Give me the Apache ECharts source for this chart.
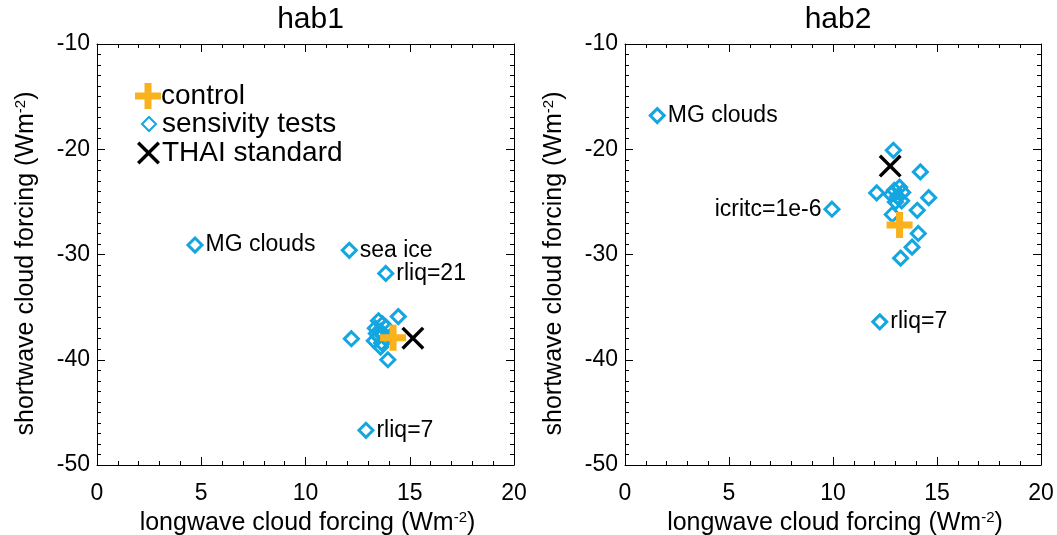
<!DOCTYPE html>
<html><head><meta charset="utf-8">
<script src="https://cdn.jsdelivr.net/npm/echarts@6/dist/echarts.min.js"></script>
<style>html,body{margin:0;padding:0;background:#fff}#c{width:1057px;height:535px}</style>
</head><body><div id="c"></div>
<script>
// ---- data ----
const panelTitles = ['hab1', 'hab2'];
const xTicks = [0, 5, 10, 15, 20];
const yTicks = [-50, -40, -30, -20, -10];
// hab1 sensitivity tests
const hab1Lw = [4.7, 12.1, 13.85, 12.9, 12.2, 14.45, 13.95, 13.5, 13.7, 13.35, 13.6, 13.85, 13.5, 13.3, 13.65, 13.9, 13.6, 13.4];
const hab1Sw = [-29.1, -29.6, -31.8, -46.7, -38.0, -35.9, -40.0, -36.3, -36.6, -37.0, -37.3, -36.9, -37.8, -38.2, -38.4, -38.0, -38.8, -37.5];
const hab1Names = ['MG clouds', 'sea ice', 'rliq=21', 'rliq=7', '', '', '', '', '', '', '', '', '', '', '', '', '', ''];
const hab1Control = [14.2, -37.9];
const hab1Thai = [15.15, -37.95];
// hab2 sensitivity tests
const hab2Lw = [1.55, 9.95, 12.25, 12.9, 14.2, 12.1, 14.6, 14.05, 12.85, 14.1, 13.8, 13.25, 12.95, 13.2, 13.35, 13.1, 12.8, 13.3, 13.0];
const hab2Sw = [-16.8, -25.7, -36.4, -20.1, -22.15, -24.15, -24.6, -25.8, -26.2, -28.0, -29.3, -30.35, -23.9, -23.6, -24.1, -24.5, -24.3, -24.9, -25.0];
const hab2Names = ['MG clouds', 'icritc=1e-6', 'rliq=7', '', '', '', '', '', '', '', '', '', '', '', '', '', '', '', ''];
const hab2LabelSide = ['right', 'left', 'right'];
const hab2Control = [13.2, -27.2];
const hab2Thai = [12.75, -21.6];

// ---- styling ----
const FONT = '"Liberation Sans", Arial, sans-serif';
const BLUE = '#13a6e0';
const ORANGE = '#f9b21b';
const PLUS = 'path://M9.5,0 H16.5 V9.5 H26 V16.5 H16.5 V26 H9.5 V16.5 H0 V9.5 H9.5 Z';
const CROSS = 'path://M0,2.1 L2.1,0 L10,7.9 L17.9,0 L20,2.1 L12.1,10 L20,17.9 L17.9,20 L10,12.1 L2.1,20 L0,17.9 L7.9,10 Z';

const grids = [
  {left: 97, top: 44, width: 417, height: 421, outerBoundsMode: 'none', containLabel: false},
  {left: 625, top: 44, width: 416, height: 421, outerBoundsMode: 'none', containLabel: false}
];

const supRich = {sup: {fontSize: 15, verticalAlign: 'top', lineHeight: 27, fontFamily: FONT, color: '#000'}};

function xAx(gi, pos, withLabels) {
  return {
    type: 'value', gridIndex: gi, position: pos, min: xTicks[0], max: xTicks[xTicks.length - 1], interval: 5,
    axisLine: {show: true, onZero: false, lineStyle: {color: '#000', width: 1}},
    axisTick: {show: true, inside: true, length: 8, lineStyle: {color: '#000'}},
    minorTick: {show: true, splitNumber: 5, length: 4, lineStyle: {color: '#000'}},
    splitLine: {show: false},
    axisLabel: {show: withLabels, inside: false, margin: 17, fontSize: 23, color: '#000', fontFamily: FONT},
    name: withLabels ? 'longwave cloud forcing (Wm{sup|-2})' : '',
    nameLocation: 'middle', nameGap: 44,
    nameTextStyle: {fontSize: 25, color: '#000', fontFamily: FONT, lineHeight: 27, rich: supRich,
      padding: [0, 0, 0, 4]}
  };
}
function yAx(gi, pos, withLabels) {
  return {
    type: 'value', gridIndex: gi, position: pos, min: yTicks[0], max: yTicks[yTicks.length - 1], interval: 10,
    axisLine: {show: true, onZero: false, lineStyle: {color: '#000', width: 1}},
    axisTick: {show: true, inside: true, length: 8, lineStyle: {color: '#000'}},
    minorTick: {show: true, splitNumber: 10, length: 4, lineStyle: {color: '#000'}},
    splitLine: {show: false},
    axisLabel: {show: withLabels, margin: 7, fontSize: 23, color: '#000', fontFamily: FONT,
      padding: [8, 0, 0, 0]},
    name: withLabels ? 'shortwave cloud forcing (Wm{sup|-2})' : '',
    nameLocation: 'middle', nameGap: 57, nameRotate: 90,
    nameTextStyle: {fontSize: 25, color: '#000', fontFamily: FONT, lineHeight: 27, rich: supRich,
      padding: [0, 18, 0, 0]}
  };
}

function testData(lw, sw, names, sides) {
  return lw.map((x, i) => {
    const d = {value: [x, sw[i]]};
    if (names[i]) {
      d.label = {show: true, formatter: names[i], position: (sides && sides[i]) || 'right', distance: 2,
        fontSize: 23, color: '#000', fontFamily: FONT};
    }
    return d;
  });
}

const xAxes = [], yAxes = [];
[0, 1].forEach(g => {
  xAxes.push(xAx(g, 'bottom', true), xAx(g, 'top', false));
  yAxes.push(yAx(g, 'left', true), yAx(g, 'right', false));
});

const panels = [
  {lw: hab1Lw, sw: hab1Sw, names: hab1Names, sides: null, control: hab1Control, thai: hab1Thai},
  {lw: hab2Lw, sw: hab2Sw, names: hab2Names, sides: hab2LabelSide, control: hab2Control, thai: hab2Thai}
];

const series = [];
panels.forEach((p, g) => {
  series.push({
    name: 'sensivity tests', type: 'scatter', xAxisIndex: 2 * g, yAxisIndex: 2 * g,
    symbol: 'diamond', symbolSize: 14, z: 2,
    itemStyle: {color: 'rgba(0,0,0,0)', borderColor: BLUE, borderWidth: 3, opacity: 1},
    emphasis: {disabled: true},
    data: testData(p.lw, p.sw, p.names, p.sides)
  });
  series.push({
    name: 'control', type: 'scatter', xAxisIndex: 2 * g, yAxisIndex: 2 * g,
    symbol: PLUS, symbolSize: 26, z: 3, itemStyle: {color: ORANGE, opacity: 1}, emphasis: {disabled: true},
    data: [p.control]
  });
  series.push({
    name: 'THAI standard', type: 'scatter', xAxisIndex: 2 * g, yAxisIndex: 2 * g,
    symbol: CROSS, symbolSize: 23, z: 4, itemStyle: {color: '#000', opacity: 1}, emphasis: {disabled: true},
    data: [p.thai]
  });
});

const legendText = {fontSize: 28, color: '#000', fontFamily: FONT, padding: [0, 0, 0, -5]};
const option = {
  animation: false,
  backgroundColor: '#fff',
  title: panelTitles.map((t, i) => ({
    text: t, left: grids[i].left + grids[i].width / 2, top: 0, textAlign: 'center',
    textStyle: {fontSize: 30, fontWeight: 'normal', color: '#000', fontFamily: FONT}
  })),
  legend: [
    {data: [{name: 'control', icon: PLUS}], left: 130, top: 77, itemWidth: 26, itemHeight: 26,
      textStyle: legendText, selectedMode: false},
    {data: [{name: 'sensivity tests'}], left: 136, top: 105, itemWidth: 14, itemHeight: 14,
      textStyle: Object.assign({}, legendText, {padding: [0, 0, 0, 1]}), selectedMode: false},
    {data: [{name: 'THAI standard', icon: CROSS}], left: 132, top: 134, itemWidth: 23, itemHeight: 23,
      textStyle: Object.assign({}, legendText, {padding: [0, 0, 0, -3]}), selectedMode: false}
  ],
  grid: grids,
  xAxis: xAxes,
  yAxis: yAxes,
  series: series
};
const chart = echarts.init(document.getElementById('c'), null, {renderer: 'canvas'});
chart.setOption(option);
</script></body></html>
